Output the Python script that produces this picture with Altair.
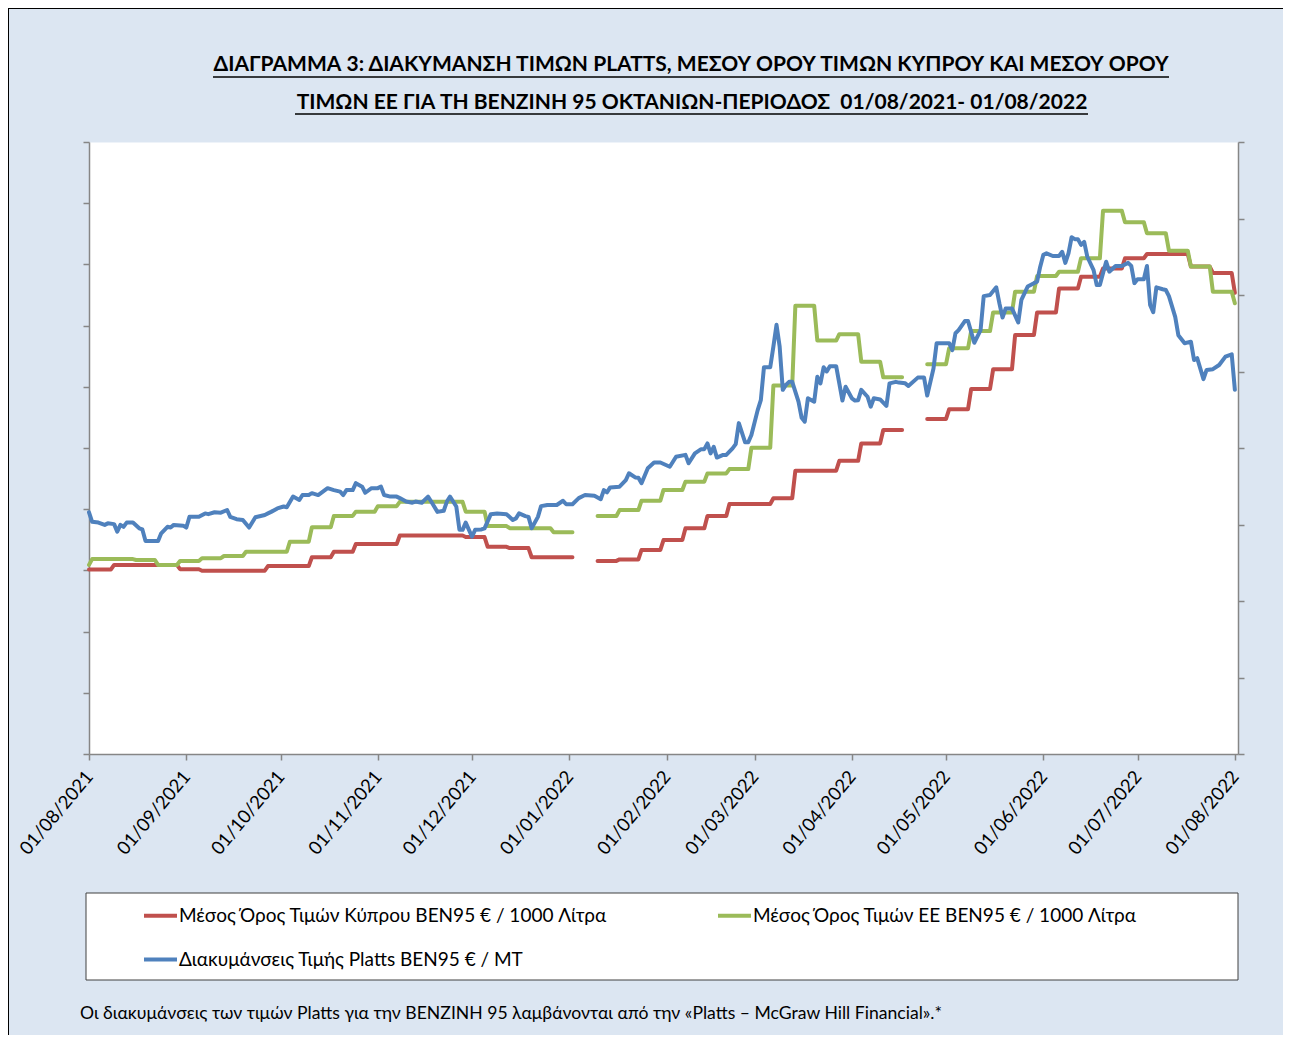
import altair as alt
import pandas as pd

# ---------------- data ----------------
LBL_CY = "Μέσος Όρος Τιμών Κύπρου BEN95 € / 1000 Λίτρα"
LBL_EU = "Μέσος Όρος Τιμών ΕΕ BEN95 € / 1000 Λίτρα"
LBL_PL = "Διακυμάνσεις Τιμής Platts BEN95 € / MT"

# weekly averages, one value per week (weeks start on Monday, 02/08/2021 ... 01/08/2022)
week_start = pd.date_range("2021-08-02", "2022-08-01", freq="7D")
first_day = pd.Timestamp("2021-08-01")
cyprus_first = 603
eu_first = 618
cyprus_avg = [603, 618, 618, 618, 604, 599, 599, 599, 614, 614,
              643, 661, 686, 686, 714, 714, 714, 709, 677, 673,
              643, 643, None, 631, 636, 667, 699, 738, 778, 817,
              817, 836, 926, 926, 958, 1015, 1059, None, 1095, 1127,
              1193, 1257, 1369, 1443, 1521, 1560, 1587, 1620, 1634, 1634,
              1593, 1572, 1507]
eu_avg = [637, 637, 634, 618, 631, 640, 647, 661, 661, 694,
          741, 778, 792, 810, 824, 824, 824, 792, 745, 738,
          738, 725, None, 778, 797, 828, 863, 890, 917, 931,
          1001, 1204, 1465, 1351, 1372, 1282, 1231, None, 1274, 1326,
          1382, 1443, 1511, 1562, 1576, 1620, 1775, 1738, 1702, 1645,
          1593, 1511, 1473]

# Platts quotes: day number counted from 01/08/2021, and price € / MT
platts_day = [0, 1, 3, 5, 6, 8, 9, 10, 11, 12,
              14, 16, 17, 18, 22, 23, 25, 26, 27, 30,
              31, 32, 35, 37, 38, 40, 42, 44, 45, 47,
              49, 51, 53, 56, 57, 58, 60, 62, 63, 65,
              67, 68, 70, 71, 73, 76, 78, 80, 81, 82,
              84, 85, 87, 88, 90, 92, 93, 94, 96, 98,
              99, 101, 103, 104, 106, 108, 109, 111, 113, 114,
              115, 117, 118, 119, 120, 122, 123, 125, 126, 128,
              130, 133, 135, 136, 137, 139, 140, 141, 143, 144,
              146, 149, 151, 152, 154, 156, 158, 161,
              163, 164, 165, 166, 169, 171, 172, 174, 175, 176,
              178, 180, 182, 185, 187, 190, 191, 193, 195, 196,
              197, 198, 199, 200, 202, 203, 205, 206, 207, 209,
              210, 211, 213, 214, 215, 217, 218, 219, 220, 221,
              222, 223, 224, 226, 227, 228, 229, 231, 232, 233,
              234, 235, 236, 238, 239, 240, 241, 243, 244, 245,
              246, 248, 249, 250, 252, 254, 255, 257,
              258, 260, 261, 264, 266, 267, 269, 270, 274, 275,
              276, 277, 279, 280, 282, 284, 285, 287, 289, 290,
              291, 292, 294, 296, 297, 299, 301, 302, 303, 304,
              305, 307, 309, 310, 311, 312, 313, 314, 315, 316,
              317, 318, 320, 321, 322, 323, 324, 325, 327, 329,
              331, 332, 333, 334, 336, 337, 338, 339, 340, 342,
              343, 344, 346, 347, 349, 351, 352, 353, 355, 356,
              358, 360, 362, 364, 365]
platts_value = [632, 607, 605, 599, 603, 601, 581, 599, 594, 605,
                605, 590, 587, 557, 557, 577, 594, 592, 599, 597,
                592, 620, 620, 629, 627, 632, 631, 638, 620, 614,
                612, 592, 619, 625, 629, 633, 642, 647, 645, 673,
                664, 677, 677, 682, 677, 695, 690, 686, 677, 690,
                690, 708, 699, 683, 695, 695, 699, 677, 673, 673,
                669, 660, 657, 660, 657, 673, 660, 633, 636, 660,
                673, 647, 586, 586, 605, 568, 586, 587, 590, 627,
                629, 627, 612, 616, 629, 622, 620, 590, 620, 648,
                651, 651, 662, 653, 653, 669, 677, 675,
                666, 690, 684, 697, 699, 716, 734, 723, 722, 708,
                747, 762, 762, 751, 777, 782, 760, 786, 797, 797,
                812, 786, 803, 775, 782, 782, 799, 810, 865, 815,
                815, 834, 899, 925, 1011, 1011, 1065, 1122, 1065, 952,
                965, 973, 973, 921, 879, 869, 930, 921, 986, 969,
                1011, 1000, 1014, 1014, 969, 924, 960, 930, 924, 925,
                952, 934, 908, 930, 927, 910, 969, 973,
                971, 969, 962, 984, 984, 937, 1008, 1074, 1074, 1056,
                1100, 1108, 1132, 1132, 1075, 1108, 1197, 1200, 1220, 1178,
                1141, 1165, 1165, 1128, 1187, 1222, 1231, 1235, 1274, 1305,
                1309, 1302, 1302, 1313, 1284, 1309, 1351, 1346, 1346, 1331,
                1339, 1300, 1265, 1226, 1226, 1257, 1287, 1261, 1276, 1276,
                1284, 1276, 1231, 1241, 1241, 1276, 1174, 1155, 1220, 1215,
                1213, 1197, 1143, 1095, 1074, 1078, 1030, 1035, 980, 1004,
                1006, 1017, 1039, 1045, 952]

TITLE_1 = "ΔΙΑΓΡΑΜΜΑ 3: ΔΙΑΚΥΜΑΝΣΗ ΤΙΜΩΝ PLATTS, ΜΕΣΟΥ ΟΡΟΥ ΤΙΜΩΝ ΚΥΠΡΟΥ ΚΑΙ ΜΕΣΟΥ ΟΡΟΥ"
TITLE_2 = "ΤΙΜΩΝ ΕΕ ΓΙΑ ΤΗ ΒΕΝΖΙΝΗ 95 ΟΚΤΑΝΙΩΝ-ΠΕΡΙΟΔΟΣ\u00a0 01/08/2021- 01/08/2022"
FOOTNOTE = ("Οι διακυμάνσεις των τιμών Platts για την ΒΕΝΖΙΝΗ 95 λαμβάνονται από την "
            "«Platts – McGraw Hill Financial».*")

# ---------------- tables ----------------
LAST = pd.Timestamp("2022-08-01")


def weekly_table(first_value, values, label):
    rows = [{"date": first_day, "value": first_value, "seg": 0, "series": label}]
    seg = 0
    for ws, v in zip(week_start, values):
        if v is None:
            seg += 1
            continue
        rows.append({"date": ws, "value": v, "seg": seg, "series": label})
        end = ws + pd.Timedelta(days=6)
        if end <= LAST:
            rows.append({"date": end, "value": v, "seg": seg, "series": label})
    return pd.DataFrame(rows)


cy_df = weekly_table(cyprus_first, cyprus_avg, LBL_CY)
eu_df = weekly_table(eu_first, eu_avg, LBL_EU)
pl_df = pd.DataFrame({
    "date": first_day + pd.to_timedelta(platts_day, unit="D"),
    "value": platts_value,
    "series": LBL_PL,
})

FONT = "Lato"
GRAY = "#868686"

color_scale = alt.Scale(domain=[LBL_CY, LBL_EU, LBL_PL],
                        range=["#C0504D", "#9BBB59", "#4F81BD"])
legend = alt.Legend(orient="none", legendX=53, legendY=755, columns=2,
                    direction="horizontal",
                    columnPadding=102, rowPadding=15, title=None,
                    symbolType="stroke", symbolSize=1089, symbolStrokeWidth=4,
                    labelFont=FONT, labelFontSize=19, labelColor="black",
                    labelLimit=800, labelOffset=0, padding=0)

month_ticks = [alt.DateTime(year=2021 + (7 + i) // 12, month=(7 + i) % 12 + 1, date=1)
               for i in range(13)]
x_enc = alt.X("date:T",
              scale=alt.Scale(domain=[alt.DateTime(year=2021, month=8, date=1),
                                      alt.DateTime(year=2022, month=8, date=2)],
                              nice=False),
              axis=alt.Axis(values=month_ticks, format="%d/%m/%Y", labelAngle=-50,
                            labelFont=FONT, labelFontSize=18.5, labelColor="black",
                            labelFlush=False, labelOverlap=False, tickSize=6,
                            labelPadding=13, title=None, grid=False))

left_y = alt.Y("value:Q",
               scale=alt.Scale(domain=[0, 2000], nice=False),
               axis=alt.Axis(orient="left", labels=False, tickSize=6,
                             values=list(range(0, 2001, 200)), title=None, grid=False))
right_y = alt.Y("value:Q",
                scale=alt.Scale(domain=[0, 1600], nice=False),
                axis=alt.Axis(orient="right", labels=False, tickSize=6,
                              values=list(range(0, 1601, 200)), title=None, grid=False))

line_style = dict(strokeWidth=4, strokeJoin="round", strokeCap="round")

red = alt.Chart(cy_df).mark_line(**line_style).encode(
    x=x_enc, y=left_y, detail="seg:N",
    color=alt.Color("series:N", scale=color_scale, legend=legend))
green = alt.Chart(eu_df).mark_line(**line_style).encode(
    x=x_enc, y=left_y, detail="seg:N",
    color=alt.Color("series:N", scale=color_scale, legend=legend))
blue = alt.Chart(pl_df).mark_line(**line_style).encode(
    x=x_enc, y=right_y,
    color=alt.Color("series:N", scale=color_scale, legend=legend))

one = pd.DataFrame({"k": [0]})

legend_box = alt.Chart(one).mark_rect(fill="white", stroke="#404040", strokeWidth=1).encode(
    x=alt.value(-3), x2=alt.value(1149), y=alt.value(751), y2=alt.value(838))
border_top = alt.Chart(one).mark_rule(color="black", strokeWidth=1).encode(
    x=alt.value(-81), x2=alt.value(1194), y=alt.value(-133.5))
border_left = alt.Chart(one).mark_rule(color="black", strokeWidth=1).encode(
    x=alt.value(-80.5), y=alt.value(-134), y2=alt.value(893))

title1 = alt.Chart(pd.DataFrame({"t": [TITLE_1]})).mark_text(
    font=FONT, fontSize=21, fontWeight="bold", align="center", baseline="alphabetic",
    color="black").encode(text="t:N", x=alt.value(602), y=alt.value(-71))
title2 = alt.Chart(pd.DataFrame({"t": [TITLE_2]})).mark_text(
    font=FONT, fontSize=21, fontWeight="bold", align="center", baseline="alphabetic",
    color="black").encode(text="t:N", x=alt.value(603), y=alt.value(-33.5))
ul1 = alt.Chart(one).mark_rule(color="black", strokeWidth=1.5).encode(
    x=alt.value(124), x2=alt.value(1080), y=alt.value(-65))
ul2 = alt.Chart(one).mark_rule(color="black", strokeWidth=1.5).encode(
    x=alt.value(206), x2=alt.value(999), y=alt.value(-28))
foot = alt.Chart(pd.DataFrame({"t": [FOOTNOTE]})).mark_text(
    font=FONT, fontSize=17.6, align="left", baseline="alphabetic", color="black").encode(
    text="t:N", x=alt.value(-9), y=alt.value(877))

chart = alt.layer(
    border_top, border_left, legend_box, alt.layer(red, green), blue,
    title1, title2, ul1, ul2, foot
).resolve_scale(y="independent").properties(
    width=1149, height=612,
    padding={"left": 81, "top": 134, "right": 45, "bottom": 281},
    autosize=alt.AutoSizeParams(type="none"),
    background="#DCE6F2",
).configure_view(fill="white", stroke="transparent").configure_axis(
    domainColor=GRAY, tickColor=GRAY, domainWidth=1.5, tickWidth=1.5)

chart.save("out.html", embed_options={"renderer": "svg", "actions": False})
